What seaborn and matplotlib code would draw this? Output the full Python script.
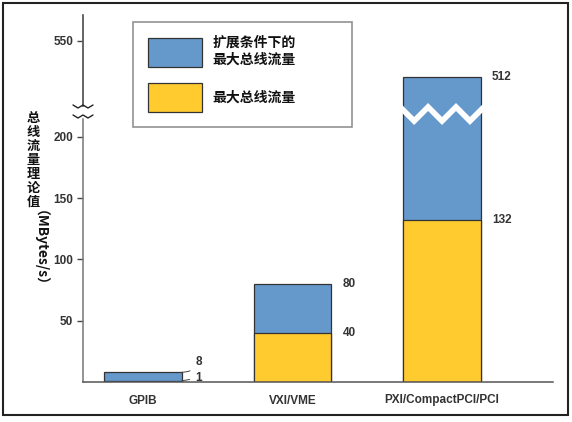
import numpy as np
import matplotlib
matplotlib.use('Agg')
import matplotlib.pyplot as plt
import matplotlib.transforms as mtrans
from matplotlib.patches import Rectangle, Polygon
import seaborn as sns
import pandas as pd

# data
categories = ['GPIB', 'VXI/VME', 'PXI/CompactPCI/PCI']
peak_total = [8, 80, 512]     # 扩展条件下的最大总线流量
max_total = [1, 40, 132]      # 最大总线流量
series_names = ['扩展条件下的\n最大总线流量', '最大总线流量']
y_ticks = [50, 100, 150, 200, 550]
y_label_cn = '总线流量理论值'
y_label_unit = '（MBytes/s）'

blue = '#6598CB'
yellow = '#FFCB2F'
W, H = 572, 422

sns.set_style('white')
plt.rcParams['font.family'] = ['Liberation Sans', 'Noto Sans CJK SC', 'DejaVu Sans']
plt.rcParams['font.weight'] = 'bold'

df = pd.DataFrame({'category': categories, 'peak': peak_total, 'max': max_total})

fig = plt.figure(figsize=(W / 100, H / 100), dpi=100)
ax = fig.add_axes([83 / W, 40 / H, 470 / W, 367 / H])

sns.barplot(data=df, x='category', y='peak', color=blue, saturation=1, width=0.52,
            edgecolor='#333333', linewidth=0.9, ax=ax, label=series_names[0])
sns.barplot(data=df, x='category', y='max', color=yellow, saturation=1, width=0.52,
            edgecolor='#333333', linewidth=0.9, ax=ax, label=series_names[1])

# broken y axis: compress the 215..480 range
lo, hi, t_hi, k_up = 215.0, 480.0, 224.3, 0.773
k_mid = (t_hi - lo) / (hi - lo)

def fwd(v):
    v = np.asarray(v, float)
    return np.where(v <= lo, v, np.where(v <= hi, lo + (v - lo) * k_mid, t_hi + (v - hi) * k_up))

def inv(t):
    t = np.asarray(t, float)
    return np.where(t <= lo, t, np.where(t <= t_hi, lo + (t - lo) / k_mid, hi + (t - t_hi) / k_up))

ax.set_yscale('function', functions=(fwd, inv))
ax.set_ylim(0, 577)
ax.set_xlim(-0.401, 2.742)
ax.set_yticks(y_ticks)
ax.set_yticklabels([str(t) for t in y_ticks])
ax.minorticks_off()
ax.set_xlabel('')
ax.set_ylabel('')

ax.spines[['top', 'right']].set_visible(False)
ax.spines['left'].set_color('#777777')
ax.spines['bottom'].set_color('#555555')
ax.spines['left'].set_linewidth(1.1)
ax.spines['bottom'].set_linewidth(1.1)
ax.axvline(-0.401, ymin=0.73, ymax=1, color='black', lw=1.1, clip_on=False)

ax.tick_params(axis='y', direction='out', length=4, width=1, color='#444444', pad=3,
               labelsize=8.5, labelcolor='#333333', left=True)
ax.tick_params(axis='x', length=0, pad=9, labelsize=8.5, labelcolor='#333333')

# axis break marks
px = 1 / 470
py = 1 / 367
ax.add_patch(Rectangle((-4 * px, 0.722), 8 * px, 0.027, transform=ax.transAxes,
                       color='white', clip_on=False, zorder=5))
zx = np.array([-10, -5, 0, 5, 10]) * px
for yb in [(382 - 105) / 367, (382 - 115) / 367]:
    zy = yb + np.array([0, -3, 0, -3, 0]) * py
    ax.plot(zx, zy, color='#222222', lw=1, transform=ax.transAxes, clip_on=False, zorder=6)

# zigzag break through the tall bar
blend = mtrans.blended_transform_factory(ax.transData, ax.transAxes)
bx = np.linspace(2 - 0.28, 2 + 0.28, 7)
top = np.array([103, 117, 103, 117, 103, 117, 103], float)
edge_top = (382 - top) / 367
edge_bot = (382 - top - 8) / 367
band = np.column_stack([np.concatenate([bx, bx[::-1]]),
                        np.concatenate([edge_top, edge_bot[::-1]])])
ax.add_patch(Polygon(band, closed=True, facecolor='white', edgecolor='none',
                     transform=blend, zorder=5))

# value labels
for i in [1, 2]:
    for v in [peak_total[i], max_total[i]]:
        ax.annotate(str(v), xy=(i + 0.26, v), xytext=(8, 0), textcoords='offset points',
                    va='center', ha='left', fontsize=8.5, color='#333333')
ax.annotate(str(peak_total[0]), xy=(0.26, peak_total[0]), xytext=(10, 7), textcoords='offset points',
            va='center', ha='left', fontsize=8.5, color='#333333',
            arrowprops=dict(arrowstyle='-', color='#444444', lw=0.7, shrinkA=2, shrinkB=0,
                            connectionstyle='arc3,rad=-0.3'))
ax.annotate(str(max_total[0]), xy=(0.26, max_total[0]), xytext=(10, 2), textcoords='offset points',
            va='center', ha='left', fontsize=8.5, color='#333333',
            arrowprops=dict(arrowstyle='-', color='#444444', lw=0.7, shrinkA=2, shrinkB=0))

# legend
handles, labels = ax.get_legend_handles_labels()
leg = ax.legend(handles, labels, loc='upper left',
                bbox_to_anchor=(133 / W, (H - 22) / H, 219 / W, 0.001), bbox_transform=fig.transFigure,
                mode='expand', borderaxespad=0, handlelength=3.9, handleheight=2.9,
                handletextpad=0.8, labelspacing=1.1, borderpad=1.05, fancybox=False, frameon=True,
                prop={'family': ['Noto Sans CJK SC'], 'weight': 'bold', 'size': 10})
leg.get_frame().set_edgecolor('#777777')
leg.get_frame().set_linewidth(1.2)
for t in leg.get_texts():
    t.set_color('#111111')

# y label: stacked characters + rotated unit
fig.text(33 / W, (H - 160) / H, '\n'.join(y_label_cn), ha='center', va='center',
         fontsize=9.5, linespacing=1.0, family=['Noto Sans CJK SC'], weight='bold', color='#111111')
fig.text(33 / W, (H - 255) / H, y_label_unit, ha='center', va='center', rotation=270,
         fontsize=10, family=['Noto Sans CJK SC'], weight='bold', color='#111111')

# outer frame
fig.add_artist(Rectangle((3 / W, 7 / H), 565 / W, 412 / H, transform=fig.transFigure,
                         fill=False, lw=1.5, edgecolor='#222222'))

fig.savefig('out.png', dpi=100)
